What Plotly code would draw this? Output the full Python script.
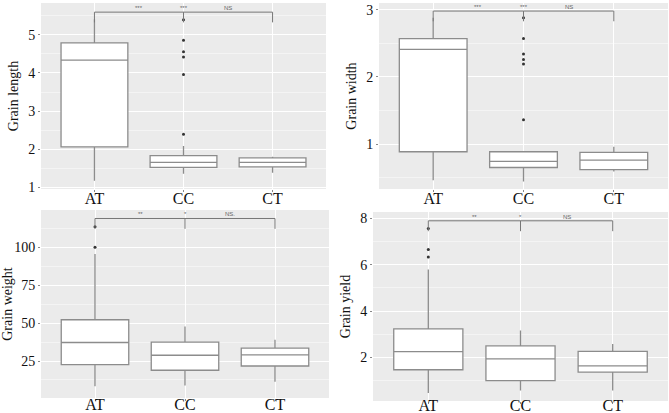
import plotly.graph_objects as go

W, H = 669, 413

groups = ["AT", "CC", "CT"]
positions = [1, 2, 3]

# --- Grain length
gl_q1 = [2.06, 1.52, 1.53]
gl_med = [4.34, 1.65, 1.65]
gl_q3 = [4.79, 1.83, 1.77]
gl_lo = [1.17, 1.35, 1.38]
gl_hi = [5.41, 2.08, 1.80]
gl_out_x = [2, 2, 2, 2, 2, 2]
gl_out_y = [5.40, 4.86, 4.56, 4.42, 3.96, 2.39]

# --- Grain width
gw_q1 = [0.885, 0.65, 0.62]
gw_med = [2.41, 0.74, 0.76]
gw_q3 = [2.57, 0.885, 0.875]
gw_lo = [0.46, 0.44, 0.59]
gw_hi = [2.88, 0.885, 0.96]
gw_out_x = [2, 2, 2, 2, 2, 2]
gw_out_y = [2.88, 2.57, 2.34, 2.26, 2.19, 1.36]

# --- Grain weight
gwt_q1 = [22.6, 18.9, 21.7]
gwt_med = [37.2, 28.8, 29.1]
gwt_q3 = [52.2, 37.5, 33.5]
gwt_lo = [8.3, 8.9, 11.4]
gwt_hi = [95.6, 47.8, 39.0]
gwt_out_x = [1, 1]
gwt_out_y = [113.6, 100.0]

# --- Grain yield
gy_q1 = [1.47, 1.00, 1.37]
gy_med = [2.25, 1.94, 1.64]
gy_q3 = [3.23, 2.50, 2.26]
gy_lo = [0.47, 0.57, 0.57]
gy_hi = [5.80, 3.16, 2.58]
gy_out_x = [1, 1, 1]
gy_out_y = [7.57, 6.66, 6.34]

titles = ["Grain length", "Grain width", "Grain weight", "Grain yield"]
y_ranges = [[0.95, 5.84], [0.33, 3.10], [0.6, 124.6], [0.12, 8.28]]
y_dticks = [1, 1, 25, 2]
bracket_y = [5.60, 2.98, 119.0, 7.90]
sig_labels = [["***", "***", "NS"], ["***", "***", "NS"],
              ["**", "*", "NS."], ["**", "*", "NS"]]

# pixel boxes for each panel: (left, right, top, bottom)
panel_px = [(41, 326, 3, 189), (379, 668, 3, 189),
            (41, 329, 210, 398), (373, 668, 212, 401)]
label_standoff = [-7, -7, -10, -12]

data = [
    (gl_q1, gl_med, gl_q3, gl_lo, gl_hi, gl_out_x, gl_out_y),
    (gw_q1, gw_med, gw_q3, gw_lo, gw_hi, gw_out_x, gw_out_y),
    (gwt_q1, gwt_med, gwt_q3, gwt_lo, gwt_hi, gwt_out_x, gwt_out_y),
    (gy_q1, gy_med, gy_q3, gy_lo, gy_hi, gy_out_x, gy_out_y),
]

fig = go.Figure()
layout = dict(width=W, height=H, margin=dict(l=0, r=0, t=0, b=0),
              paper_bgcolor="white", plot_bgcolor="#EBEBEB",
              showlegend=False, font=dict(family="Liberation Serif", color="#222"))
annotations = []
box_line = "#8c8c8c"

for i, (q1, med, q3, lo, hi, ox, oy) in enumerate(data):
    n = "" if i == 0 else str(i + 1)
    xa, ya = "x" + n, "y" + n
    l, r, t, b = panel_px[i]
    layout["xaxis" + n] = dict(
        domain=[l / W, r / W], anchor=ya, range=[0.4, 3.6], automargin=False,
        tickmode="array", tickvals=positions, ticktext=groups,
        showgrid=True, gridcolor="white", gridwidth=1, zeroline=False,
        ticks="outside", ticklen=2, tickcolor="#888", ticklabelstandoff=label_standoff[i],
        tickfont=dict(size=16, family="Liberation Serif", color="#111"))
    layout["yaxis" + n] = dict(
        domain=[1 - b / H, 1 - t / H], anchor=xa, range=y_ranges[i], automargin=False,
        dtick=y_dticks[i], tick0=0, showgrid=True, gridcolor="white",
        gridwidth=1, zeroline=False,
        minor=dict(dtick=y_dticks[i] / 2, showgrid=True, gridcolor="#F4F4F4", gridwidth=0.6),
        ticks="outside", ticklen=2, tickcolor="#888",
        tickfont=dict(size=14, family="Liberation Serif", color="#111"),
        title=dict(text=titles[i], font=dict(size=14, family="Liberation Serif", color="#111"),
                   standoff=6))
    fig.add_trace(go.Box(
        x=positions, q1=q1, median=med, q3=q3, lowerfence=lo, upperfence=hi,
        width=0.75, whiskerwidth=0, boxpoints=False, fillcolor="white",
        line=dict(color=box_line, width=1.3), xaxis=xa, yaxis=ya, hoverinfo="skip"))
    fig.add_trace(go.Scatter(
        x=ox, y=oy, mode="markers", marker=dict(size=3, color="#333"),
        xaxis=xa, yaxis=ya, hoverinfo="skip"))
    # significance bracket
    yr = y_ranges[i]
    leg = (yr[1] - yr[0]) * 0.055
    by = bracket_y[i]
    bx = [1, 1, None, 1, 3, None, 3, 3, None, 2, 2]
    byy = [by - leg, by, None, by, by, None, by, by - leg, None, by, by - leg]
    fig.add_trace(go.Scatter(
        x=bx, y=byy, mode="lines", line=dict(color="#777", width=1),
        xaxis=xa, yaxis=ya, hoverinfo="skip"))
    for xpos, lab in zip([1.5, 2, 2.5], sig_labels[i]):
        annotations.append(dict(
            x=xpos, y=by, xref=xa, yref=ya, text=lab, showarrow=False,
            yanchor="bottom", yshift=-1,
            font=dict(size=6, family="Liberation Sans", color="#666")))

layout["annotations"] = annotations
fig.update_layout(**layout)
fig.write_html("out.html", config={"displayModeBar": False},
               post_script="document.body.style.margin='0';document.body.style.overflow='hidden';")
